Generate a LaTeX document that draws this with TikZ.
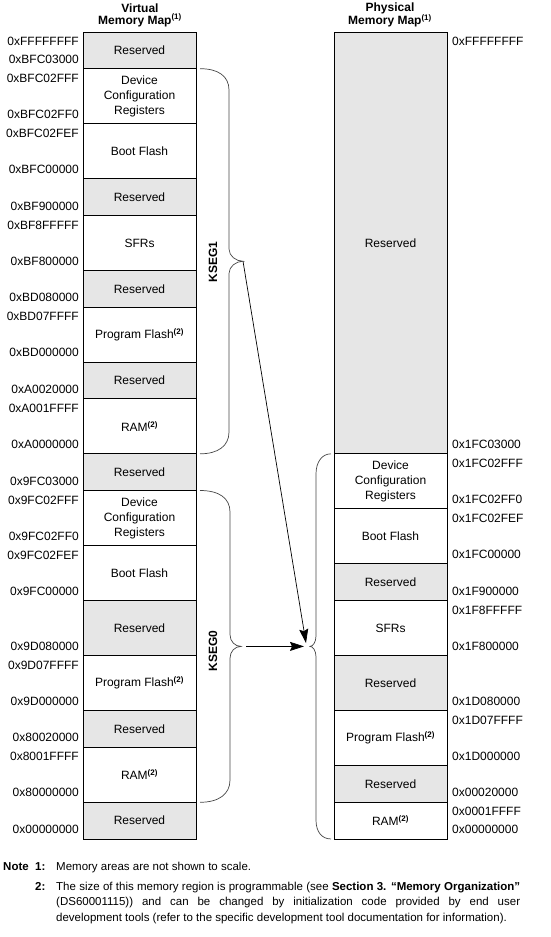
\documentclass[tikz,border=0pt]{standalone}
\usepackage{fontspec}
\setmainfont{Liberation Sans}
\usetikzlibrary{arrows.meta}
\definecolor{resv}{RGB}{230,230,230}
\definecolor{bracec}{RGB}{70,70,70}
\newcommand{\supb}[1]{\textsuperscript{\textbf{#1}}}
% #1 name, #2 top, #3 height, #4 style, #5 text, #6 top address, #7 bottom address
\newcommand{\vmrow}[7]{%
  \node[#4, anchor=north west, minimum height=#3pt] (#1) at (83,#2) {#5};
  \if\relax\detokenize{#6}\relax\else\node[addrL] (#1t) at (79,#2+9.5) {#6};\fi
  \node[addrL] (#1b) at (79,#2+#3-9.5) {#7};
}
\newcommand{\pmrow}[7]{%
  \node[#4, anchor=north west, minimum height=#3pt] (#1) at (334,#2) {#5};
  \if\relax\detokenize{#6}\relax\else\node[addrR] (#1t) at (452,#2+9.5) {#6};\fi
  \node[addrR] (#1b) at (452,#2+#3-9.5) {#7};
}
\begin{document}
\begin{tikzpicture}[x=1pt,y=-1pt,
  row/.style={draw, line width=0.8pt, minimum width=113pt, inner sep=0pt, outer sep=0pt,
    align=center, font=\fontsize{12}{15}\selectfont},
  resvrow/.style={row, fill=resv},
  addrL/.style={anchor=east, inner sep=0pt, font=\fontsize{12}{14}\selectfont},
  addrR/.style={anchor=west, inner sep=0pt, font=\fontsize{12}{14}\selectfont},
  title/.style={align=center, inner sep=0pt, font=\bfseries\fontsize{12}{12}\selectfont},
  kseg/.style={rotate=90, inner sep=0pt, font=\bfseries\fontsize{12}{14}\selectfont},
  bracel/.style={draw=bracec, line width=0.7pt},
  arr/.style={draw=black, line width=0.7pt, -{Stealth[length=14pt,width=9pt,inset=2pt]}},
  notef/.style={inner sep=0pt, font=\fontsize{11.5}{15.5}\selectfont},
]
\useasboundingbox (0,0) rectangle (551,937);

% titles
\node[title] (vtitle) at (140,15) {Virtual\\Memory Map\supb{(1)}};
\node[title] (ptitle) at (390,15) {Physical\\Memory Map\supb{(1)}};

% virtual memory map
\vmrow{v1}{32}{36.68}{resvrow}{Reserved}{0xFFFFFFFF}{0xBFC03000}
\vmrow{v2}{68.68}{55.02}{row}{Device\\Configuration\\Registers}{0xBFC02FFF}{0xBFC02FF0}
\vmrow{v3}{123.70}{55.02}{row}{Boot Flash}{0xBFC02FEF}{0xBFC00000}
\vmrow{v4}{178.72}{36.68}{resvrow}{Reserved}{}{0xBF900000}
\vmrow{v5}{215.40}{55.02}{row}{SFRs}{0xBF8FFFFF}{0xBF800000}
\vmrow{v6}{270.42}{36.68}{resvrow}{Reserved}{}{0xBD080000}
\vmrow{v7}{307.10}{55.02}{row}{Program Flash\supb{(2)}}{0xBD07FFFF}{0xBD000000}
\vmrow{v8}{362.12}{36.68}{resvrow}{Reserved}{}{0xA0020000}
\vmrow{v9}{398.80}{55.02}{row}{RAM\supb{(2)}}{0xA001FFFF}{0xA0000000}
\vmrow{v10}{453.82}{36.68}{resvrow}{Reserved}{}{0x9FC03000}
\vmrow{v11}{490.50}{55.02}{row}{Device\\Configuration\\Registers}{0x9FC02FFF}{0x9FC02FF0}
\vmrow{v12}{545.52}{55.02}{row}{Boot Flash}{0x9FC02FEF}{0x9FC00000}
\vmrow{v13}{600.54}{55.02}{resvrow}{Reserved}{}{0x9D080000}
\vmrow{v14}{655.56}{55.02}{row}{Program Flash\supb{(2)}}{0x9D07FFFF}{0x9D000000}
\vmrow{v15}{710.58}{36.68}{resvrow}{Reserved}{}{0x80020000}
\vmrow{v16}{747.26}{55.02}{row}{RAM\supb{(2)}}{0x8001FFFF}{0x80000000}
\vmrow{v17}{802.28}{36.68}{resvrow}{Reserved}{}{0x00000000}

% physical memory map
\pmrow{p1}{32}{421.82}{resvrow}{Reserved}{0xFFFFFFFF}{0x1FC03000}
\pmrow{p2}{453.82}{55.02}{row}{Device\\Configuration\\Registers}{0x1FC02FFF}{0x1FC02FF0}
\pmrow{p3}{508.84}{55.02}{row}{Boot Flash}{0x1FC02FEF}{0x1FC00000}
\pmrow{p4}{563.86}{36.68}{resvrow}{Reserved}{}{0x1F900000}
\pmrow{p5}{600.54}{55.02}{row}{SFRs}{0x1F8FFFFF}{0x1F800000}
\pmrow{p6}{655.56}{55.02}{resvrow}{Reserved}{}{0x1D080000}
\pmrow{p7}{710.58}{55.02}{row}{Program Flash\supb{(2)}}{0x1D07FFFF}{0x1D000000}
\pmrow{p8}{765.60}{36.68}{resvrow}{Reserved}{}{0x00020000}
\pmrow{p9}{802.28}{36.68}{row}{RAM\supb{(2)}}{0x0001FFFF}{0x00000000}

% braces
\coordinate (k1a) at (200,68.68);
\coordinate (k1b) at (200,453.82);
\coordinate (k1tip) at (243,261.25);
\draw[bracel] (k1a) .. controls (218,68.68) and (229,76) .. (229,90) -- (229,249)
  .. controls (229,256) and (236,261.25) .. (k1tip)
  .. controls (236,261.25) and (229,266.5) .. (229,273.5) -- (229,432)
  .. controls (229,446) and (218,453.82) .. (k1b);

\coordinate (k0a) at (200,490.5);
\coordinate (k0b) at (200,802.28);
\coordinate (k0tip) at (241,646.39);
\draw[bracel] (k0a) .. controls (219,490.5) and (230,498) .. (230,512) -- (230,634.5)
  .. controls (230,641.5) and (235,646.39) .. (k0tip)
  .. controls (235,646.39) and (230,651.3) .. (230,658.3) -- (230,780)
  .. controls (230,794) and (219,802.28) .. (k0b);

\coordinate (pa) at (331,453.82);
\coordinate (pb) at (331,838.96);
\coordinate (ptip) at (310,646.39);
\draw[bracel] (pa) .. controls (322,453.82) and (316,462) .. (316,474) -- (316,636)
  .. controls (316,642) and (313,646.39) .. (ptip)
  .. controls (313,646.39) and (316,650.8) .. (316,656.8) -- (316,820)
  .. controls (316,832) and (322,838.96) .. (pb);

\node[kseg] (k1lab) at (213,262) {KSEG1};
\node[kseg] (k0lab) at (213,651) {KSEG0};

% arrows
\coordinate (a1end) at (306,643);
\coordinate (a2start) at (246,646.39);
\coordinate (a2end) at (304,646.39);
\draw[arr] (k1tip) -- (a1end);
\draw[arr] (a2start) -- (a2end);

% notes
\node[notef, anchor=base west] (n0) at (3,870) {\textbf{Note}};
\node[notef, anchor=base west] (n1num) at (35,870) {\textbf{1:}};
\node[notef, anchor=base west] (n1) at (56,870) {Memory areas are not shown to scale.};
\node[notef, anchor=base west] (n2num) at (35,890) {\textbf{2:}};
\node[notef, anchor=base west, text width=464pt, align=justify] (n2) at (56,890)
  {The size of this memory region is programmable (see \textbf{Section 3. “Memory Organization”}\linebreak
   (DS60001115)) and can be changed by initialization code provided by end user\linebreak
   development tools (refer to the specific development tool documentation for information).};
\end{tikzpicture}
\end{document}
